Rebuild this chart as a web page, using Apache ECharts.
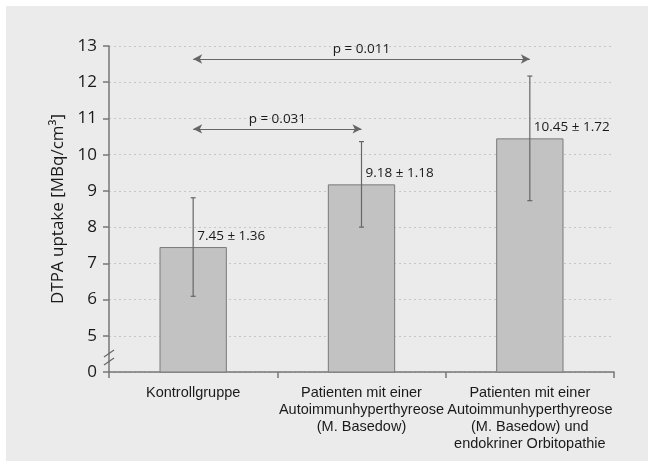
<!DOCTYPE html>
<html>
<head>
<meta charset="utf-8">
<script src="https://cdn.jsdelivr.net/npm/echarts@6/dist/echarts.min.js"></script>
<style>
html, body { margin: 0; padding: 0; background: #fff; }
#chart { position: absolute; left: 6px; top: 6px; width: 642px; height: 455px; }
</style>
</head>
<body>
<div id="chart"></div>
<script>
var categories = [
  "Kontrollgruppe",
  "Patienten mit einer\nAutoimmunhyperthyreose\n(M. Basedow)",
  "Patienten mit einer\nAutoimmunhyperthyreose\n(M. Basedow) und\nendokriner Orbitopathie"
];
var means = [7.45, 9.18, 10.45];
var sds = [1.36, 1.18, 1.72];
// Signifikanz-Pfeile: von Kategorie, bis Kategorie, Höhe, Text
var pFrom = [0, 0];
var pTo = [2, 1];
var pLevel = [12.64, 10.71];
var pLabels = ["p = 0.011", "p = 0.031"];
// Achse ist unterbrochen: Position 4 wird als "0" beschriftet
var yTickValues = [4, 5, 6, 7, 8, 9, 10, 11, 12, 13];
var yTickLabels = ["0", "5", "6", "7", "8", "9", "10", "11", "12", "13"];

var gridLeft = 103;
var axisColor = "#777";
var textColor = "#1a1a1a";

var chart = echarts.init(document.getElementById("chart"));
chart.setOption({
  backgroundColor: "#ebebeb",
  animation: false,
  grid: { left: gridLeft, right: 34, top: 40, bottom: 89 },
  xAxis: {
    type: "category",
    data: categories,
    axisLine: { lineStyle: { color: axisColor, width: 1.5 } },
    axisTick: { show: true, length: 6, lineStyle: { color: axisColor, width: 1.5 } },
    axisLabel: {
      interval: 0,
      margin: 12,
      fontFamily: "Liberation Sans",
      fontSize: 14.5,
      lineHeight: 17,
      color: textColor
    }
  },
  yAxis: {
    type: "value",
    min: 4,
    max: 13,
    interval: 1,
    name: "DTPA uptake [MBq/cm³]",
    nameLocation: "middle",
    nameGap: 35,
    nameTextStyle: { fontFamily: "Open Sans", fontSize: 17, color: textColor },
    axisLine: { show: true, lineStyle: { color: axisColor, width: 1.5 } },
    axisTick: { show: true, length: 6, lineStyle: { color: axisColor, width: 1.5 } },
    axisLabel: {
      margin: 12,
      fontFamily: "Open Sans",
      fontSize: 17,
      color: textColor,
      formatter: function (v) {
        var i = yTickValues.indexOf(v);
        return i >= 0 ? yTickLabels[i] : "";
      }
    },
    splitLine: { lineStyle: { type: [2, 3], color: "#c6c6c6", width: 1 } }
  },
  series: [
    {
      type: "bar",
      data: means,
      barWidth: "40%",
      itemStyle: { color: "#c2c2c2", borderColor: "#7a7a7a", borderWidth: 1 },
      markLine: {
        silent: true,
        symbol: ["arrow", "arrow"],
        symbolSize: [7, 9],
        lineStyle: { color: "#666", width: 1.2, type: "solid" },
        label: {
          position: "insideMiddleTop",
          distance: 3,
          color: textColor,
          fontFamily: "Open Sans",
          fontSize: 13.5,
          formatter: function (p) { return p.name; }
        },
        data: pLabels.map(function (t, i) {
          return [
            { coord: [pFrom[i], pLevel[i]], name: t },
            { coord: [pTo[i], pLevel[i]] }
          ];
        })
      }
    },
    {
      // Fehlerbalken mit Beschriftung
      type: "custom",
      z: 3,
      data: means.map(function (m, i) { return [i, m - sds[i], m + sds[i], m]; }),
      encode: { x: 0, y: 1 },
      renderItem: function (params, api) {
        var i = params.dataIndex;
        var lo = api.coord([api.value(0), api.value(1)]);
        var hi = api.coord([api.value(0), api.value(2)]);
        var top = api.coord([api.value(0), api.value(3)]);
        var cap = 2.5;
        var style = { stroke: "#666", lineWidth: 1.2 };
        return {
          type: "group",
          children: [
            { type: "line", shape: { x1: hi[0], y1: hi[1], x2: lo[0], y2: lo[1] }, style: style },
            { type: "line", shape: { x1: hi[0] - cap, y1: hi[1], x2: hi[0] + cap, y2: hi[1] }, style: style },
            { type: "line", shape: { x1: lo[0] - cap, y1: lo[1], x2: lo[0] + cap, y2: lo[1] }, style: style },
            {
              type: "text",
              x: top[0] + 4,
              y: top[1] - 11,
              style: {
                text: means[i].toFixed(2) + " ± " + sds[i].toFixed(2),
                fontFamily: "Open Sans",
                fontSize: 13.5,
                fill: textColor,
                align: "left",
                verticalAlign: "middle"
              }
            }
          ]
        };
      }
    }
  ]
});

// Achsenbruch-Zeichen "//"
var breakAt = [4.51, 4.29];
chart.setOption({
  graphic: breakAt.map(function (v) {
    var y = chart.convertToPixel({ yAxisIndex: 0 }, v);
    return {
      type: "line",
      shape: { x1: gridLeft - 5, y1: y + 3.5, x2: gridLeft + 5, y2: y - 3.5 },
      style: { stroke: "#666", lineWidth: 1.2 },
      z: 10
    };
  })
});
</script>
</body>
</html>
